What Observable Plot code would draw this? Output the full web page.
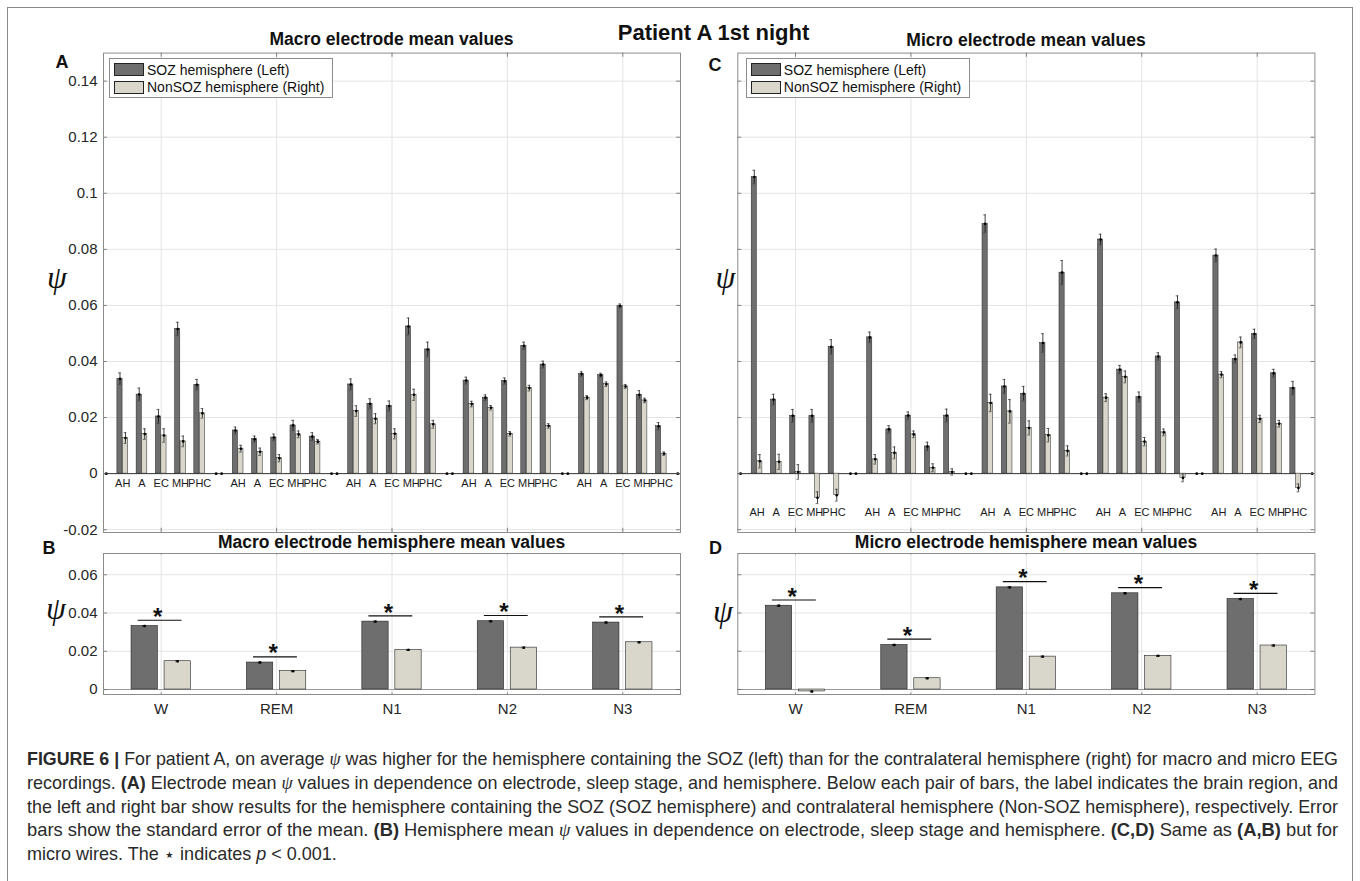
<!DOCTYPE html>
<html>
<head>
<meta charset="utf-8">
<script src="https://cdn.jsdelivr.net/npm/d3@7"></script>
<script src="https://cdn.jsdelivr.net/npm/@observablehq/plot@0.6"></script>
<style>
  body { margin: 0; background: #fff; }
  #fig { position: relative; width: 1360px; height: 881px; overflow: hidden; background: #fff;
         font-family: "Liberation Sans", Arial, Helvetica, sans-serif; color: #111; }
  .abs { position: absolute; white-space: nowrap; line-height: 1; }
  .ctr { transform: translate(-50%, -50%); }
  .psi { font-family: "Liberation Serif", "DejaVu Serif", serif; font-style: italic; }
  .legend { position: absolute; border: 1px solid #8c8c8c; background: #fff; box-sizing: border-box; }
  .lrow { position: absolute; left: 4px; display: flex; align-items: center; font-size: 14px; white-space: nowrap; }
  .patch { width: 30px; height: 13px; border: 1px solid #222; box-sizing: border-box; margin-right: 3px; }
  .cap { position: absolute; left: 27px; white-space: nowrap; line-height: 1; color: #2a2a2a; transform-origin: 0 50%; }
  .cap b { font-weight: bold; }
  .frame { position: absolute; left: 7px; top: 7px; width: 1346px; height: 900px; border: 1.5px solid #8a8a8a; box-sizing: border-box; }
</style>
</head>
<body>
<div id="fig"></div>
<script>
// ---------------- data ----------------
const stages = ["W", "REM", "N1", "N2", "N3"];
const regions = ["AH", "A", "EC", "MH", "PHC"];
const hemispheres = ["SOZ hemisphere (Left)", "NonSOZ hemisphere (Right)"];
const macroTicks = [-0.02, 0, 0.02, 0.04, 0.06, 0.08, 0.1, 0.12, 0.14];
const hemiTicks = [0, 0.02, 0.04, 0.06];

// Macro electrode means (rows: stages, cols: regions)
const macroSoz = [
  [0.0338, 0.0282, 0.0204, 0.0516, 0.0317],
  [0.0154, 0.0123, 0.0129, 0.0172, 0.0132],
  [0.0318, 0.0249, 0.0241, 0.0525, 0.0443],
  [0.0332, 0.0271, 0.0330, 0.0456, 0.0389],
  [0.0355, 0.0351, 0.0598, 0.0281, 0.0169]
];
const macroSozSE = [
  [0.0021, 0.0023, 0.0025, 0.0024, 0.0019],
  [0.0012, 0.0011, 0.0012, 0.0018, 0.0014],
  [0.0020, 0.0018, 0.0018, 0.0030, 0.0026],
  [0.0012, 0.0010, 0.0011, 0.0013, 0.0012],
  [0.0008, 0.0007, 0.0007, 0.0015, 0.0013]
];
const macroNon = [
  [0.0127, 0.0141, 0.0136, 0.0115, 0.0215],
  [0.0089, 0.0078, 0.0055, 0.0140, 0.0114],
  [0.0223, 0.0196, 0.0142, 0.0281, 0.0176],
  [0.0248, 0.0235, 0.0142, 0.0305, 0.0170],
  [0.0271, 0.0319, 0.0311, 0.0261, 0.0071]
];
const macroNonSE = [
  [0.0019, 0.0019, 0.0024, 0.0019, 0.0017],
  [0.0012, 0.0013, 0.0013, 0.0012, 0.0008],
  [0.0019, 0.0018, 0.0018, 0.0020, 0.0014],
  [0.0010, 0.0008, 0.0008, 0.0010, 0.0008],
  [0.0007, 0.0008, 0.0007, 0.0008, 0.0006]
];

// Micro electrode means
const microSoz = [
  [0.1058, 0.0264, 0.0206, 0.0206, 0.0452],
  [0.0486, 0.0158, 0.0207, 0.0097, 0.0207],
  [0.0891, 0.0311, 0.0285, 0.0466, 0.0717],
  [0.0835, 0.0371, 0.0273, 0.0418, 0.0611],
  [0.0778, 0.0409, 0.0498, 0.0358, 0.0305]
];
const microSozSE = [
  [0.0024, 0.0019, 0.0023, 0.0023, 0.0026],
  [0.0019, 0.0013, 0.0013, 0.0015, 0.0023],
  [0.0032, 0.0025, 0.0026, 0.0033, 0.0043],
  [0.0019, 0.0015, 0.0018, 0.0013, 0.0023],
  [0.0023, 0.0014, 0.0017, 0.0014, 0.0024]
];
const microNon = [
  [0.0044, 0.0042, 0.0006, -0.0086, -0.0077],
  [0.0051, 0.0074, 0.0140, 0.0021, 0.0006],
  [0.0252, 0.0222, 0.0163, 0.0137, 0.0081],
  [0.0271, 0.0345, 0.0114, 0.0147, -0.0015],
  [0.0353, 0.0468, 0.0195, 0.0178, -0.0051]
];
const microNonSE = [
  [0.0024, 0.0027, 0.0026, 0.0021, 0.0021],
  [0.0017, 0.0021, 0.0012, 0.0014, 0.0011],
  [0.0031, 0.0042, 0.0025, 0.0024, 0.0018],
  [0.0014, 0.0021, 0.0015, 0.0012, 0.0014],
  [0.0011, 0.0019, 0.0013, 0.0012, 0.0014]
];

// Hemisphere means
const macroHemiSoz = [0.0332, 0.0141, 0.0355, 0.0357, 0.0350];
const macroHemiSozSE = [0.0003, 0.0003, 0.0003, 0.0003, 0.0003];
const macroHemiNon = [0.0148, 0.0096, 0.0207, 0.0219, 0.0247];
const macroHemiNonSE = [0.0003, 0.0003, 0.0003, 0.0003, 0.0003];
const microHemiSoz = [0.0438, 0.0233, 0.0534, 0.0503, 0.0473];
const microHemiSozSE = [0.0003, 0.0003, 0.0003, 0.0003, 0.0003];
const microHemiNon = [-0.0010, 0.0059, 0.0172, 0.0176, 0.0230];
const microHemiNonSE = [0.0003, 0.0003, 0.0003, 0.0003, 0.0003];
const significant = [true, true, true, true, true];

// ---------------- style ----------------
const DARK = "#6e6e6e", LIGHT = "#d9d7cc", GRID = "#e4e4e4", BOX = "#8c8c8c", INK = "#1a1a1a";
const FONT = "Liberation Sans, Arial, Helvetica, sans-serif";
const fig = document.getElementById("fig");

function place(node, left, top) {
  node.style.position = "absolute";
  node.style.left = left + "px";
  node.style.top = top + "px";
  fig.appendChild(node);
}
function label(html, x, y, css) {
  const d = document.createElement("div");
  d.className = "abs ctr";
  d.innerHTML = html;
  d.style.left = x + "px";
  d.style.top = y + "px";
  Object.assign(d.style, css || {});
  fig.appendChild(d);
  return d;
}

const frameDiv = document.createElement("div");
frameDiv.className = "frame";
fig.appendChild(frameDiv);

// ---------------- detail panels (A, C) ----------------
function detailPanel({soz, sozSE, non, nonSE, showY, labelY, svgLeft, width, left, right}) {
  const off = 0.143, hw = 0.135;
  const bars = [];
  stages.forEach((st, g) => regions.forEach((r, k) => {
    const slot = 6 * g + k + 1;
    bars.push({slot, hemi: "soz", xc: slot - off, v: soz[g][k], se: sozSE[g][k], r});
    bars.push({slot, hemi: "non", xc: slot + off, v: non[g][k], se: nonSE[g][k], r});
  }));
  const seps = [];
  [...stages.map((s, g) => 6 * g), 6 * stages.length].forEach(s => {
    seps.push({xc: s - off}); seps.push({xc: s + off});
  });
  const centers = stages.map((s, g) => 6 * g + 3);
  const labels = bars.filter(b => b.hemi === "soz");
  const tk = 0.0015;
  const fmt = d => String(+d.toFixed(2));
  const svg = Plot.plot({
    width, height: 545,
    marginLeft: left - svgLeft, marginRight: svgLeft + width - right,
    marginTop: 52.6, marginBottom: 13,
    x: {domain: [0, 30], axis: null, label: null},
    y: {domain: [-0.021, 0.15], axis: null, label: null},
    style: {fontFamily: FONT, background: "transparent", overflow: "visible", color: INK},
    marks: [
      Plot.ruleY(macroTicks.filter(t => t !== 0), {stroke: GRID, strokeWidth: 1}),
      Plot.ruleX(centers, {stroke: GRID, strokeWidth: 1}),
      Plot.ruleY([0], {stroke: "#333", strokeWidth: 1}),
      Plot.rect(bars.filter(b => b.hemi === "soz"), {x1: d => d.xc - hw, x2: d => d.xc + hw, y1: 0, y2: "v", fill: DARK, stroke: "#222", strokeWidth: 0.5}),
      Plot.rect(bars.filter(b => b.hemi === "non"), {x1: d => d.xc - hw, x2: d => d.xc + hw, y1: 0, y2: "v", fill: LIGHT, stroke: "#222", strokeWidth: 0.5}),
      Plot.ruleX(bars, {x: "xc", y1: d => d.v - d.se, y2: d => d.v + d.se, stroke: "#111", strokeWidth: 0.8}),
      Plot.ruleY(bars, {y: d => d.v + d.se, x1: d => d.xc - 0.07, x2: d => d.xc + 0.07, stroke: "#444", strokeWidth: 0.8}),
      Plot.ruleY(bars, {y: d => d.v - d.se, x1: d => d.xc - 0.07, x2: d => d.xc + 0.07, stroke: "#444", strokeWidth: 0.8}),
      Plot.dot(bars, {x: "xc", y: "v", r: 1.3, fill: "#000", stroke: null}),
      Plot.dot(seps, {x: "xc", y: 0, r: 1.4, fill: "#000", stroke: null, clip: true}),
      Plot.text(labels, {x: "slot", y: labelY, text: "r", fontSize: 11, fill: INK}),
      Plot.ruleY(macroTicks, {x1: 0, x2: 0.2, stroke: "#666", strokeWidth: 0.8}),
      Plot.ruleY(macroTicks, {x1: 29.8, x2: 30, stroke: "#666", strokeWidth: 0.8}),
      Plot.ruleX(centers, {y1: 0.15, y2: 0.15 - tk, stroke: "#666", strokeWidth: 0.8}),
      Plot.ruleX(centers, {y1: -0.021, y2: -0.021 + tk, stroke: "#666", strokeWidth: 0.8}),
      Plot.frame({stroke: BOX, strokeWidth: 1}),
      showY ? Plot.axisY(macroTicks, {anchor: "left", tickSize: 0, tickPadding: 6, tickFormat: fmt, fontSize: 15, fill: "#262626", label: null}) : null
    ]
  });
  place(svg, svgLeft, 0);
}

// ---------------- hemisphere panels (B, D) ----------------
function hemiPanel({soz, sozSE, non, nonSE, showY, svgLeft, width, left, right}) {
  const off = 0.143, hw = 0.114;
  const bars = [];
  stages.forEach((st, i) => {
    bars.push({i, hemi: "soz", xc: i - off, v: soz[i], se: sozSE[i]});
    bars.push({i, hemi: "non", xc: i + off, v: non[i], se: nonSE[i]});
  });
  const sig = stages.map((st, i) => ({i, y: Math.max(soz[i], non[i]) + 0.003})).filter(d => significant[d.i]);
  const idx = stages.map((s, i) => i);
  const y0 = -0.0026, y1 = 0.0711, tk = 0.0008;
  const fmt = d => String(+d.toFixed(2));
  const svg = Plot.plot({
    width, height: 190,
    marginLeft: left - svgLeft, marginRight: svgLeft + width - right,
    marginTop: 13, marginBottom: 36,
    x: {domain: [-0.5, 4.5], axis: null, label: null},
    y: {domain: [y0, y1], axis: null, label: null},
    style: {fontFamily: FONT, background: "transparent", overflow: "visible", color: INK},
    marks: [
      Plot.ruleY(hemiTicks.filter(t => t !== 0), {stroke: GRID, strokeWidth: 1}),
      Plot.ruleX(idx, {stroke: GRID, strokeWidth: 1}),
      Plot.ruleY([0], {stroke: "#999", strokeWidth: 1}),
      Plot.rect(bars.filter(b => b.hemi === "soz"), {x1: d => d.xc - hw, x2: d => d.xc + hw, y1: 0, y2: "v", fill: DARK, stroke: "#222", strokeWidth: 0.6}),
      Plot.rect(bars.filter(b => b.hemi === "non"), {x1: d => d.xc - hw, x2: d => d.xc + hw, y1: 0, y2: "v", fill: LIGHT, stroke: "#222", strokeWidth: 0.6}),
      Plot.ruleX(bars, {x: "xc", y1: d => d.v - d.se, y2: d => d.v + d.se, stroke: "#111", strokeWidth: 0.8}),
      Plot.ruleY(bars, {y: d => d.v + d.se, x1: d => d.xc - 0.015, x2: d => d.xc + 0.015, stroke: "#111", strokeWidth: 0.8}),
      Plot.ruleY(bars, {y: d => d.v - d.se, x1: d => d.xc - 0.015, x2: d => d.xc + 0.015, stroke: "#111", strokeWidth: 0.8}),
      Plot.dot(bars, {x: "xc", y: "v", r: 1.2, fill: "#000", stroke: null}),
      Plot.ruleY(sig, {y: "y", x1: d => d.i - 0.2, x2: d => d.i + 0.18, stroke: "#111", strokeWidth: 1.2}),
      Plot.text(sig, {x: d => d.i - 0.03, y: "y", text: () => "*", fontSize: 24, fontWeight: "bold", dy: -3, fill: "#111"}),
      Plot.ruleY(hemiTicks, {x1: -0.5, x2: -0.465, stroke: "#666", strokeWidth: 0.8}),
      Plot.ruleY(hemiTicks, {x1: 4.465, x2: 4.5, stroke: "#666", strokeWidth: 0.8}),
      Plot.ruleX(idx, {y1: y1, y2: y1 - tk, stroke: "#666", strokeWidth: 0.8}),
      Plot.ruleX(idx, {y1: y0, y2: y0 + tk, stroke: "#666", strokeWidth: 0.8}),
      Plot.frame({stroke: BOX, strokeWidth: 1}),
      Plot.axisX(idx, {anchor: "bottom", tickSize: 0, tickPadding: 9, tickFormat: i => stages[i], fontSize: 15, fill: "#262626", label: null}),
      showY ? Plot.axisY(hemiTicks, {anchor: "left", tickSize: 0, tickPadding: 6, tickFormat: fmt, fontSize: 15, fill: "#262626", label: null}) : null
    ]
  });
  place(svg, svgLeft, 540);
}

const AX = {left: 103, right: 680}, CX = {left: 737.3, right: 1314.4};

detailPanel({soz: macroSoz, sozSE: macroSozSE, non: macroNon, nonSE: macroNonSE, showY: true, labelY: -0.0034, svgLeft: 0, width: 700, ...AX});
detailPanel({soz: microSoz, sozSE: microSozSE, non: microNon, nonSE: microNonSE, showY: false, labelY: -0.0137, svgLeft: 690, width: 670, ...CX});
hemiPanel({soz: macroHemiSoz, sozSE: macroHemiSozSE, non: macroHemiNon, nonSE: macroHemiNonSE, showY: true, svgLeft: 0, width: 700, ...AX});
hemiPanel({soz: microHemiSoz, sozSE: microHemiSozSE, non: microHemiNon, nonSE: microHemiNonSE, showY: false, svgLeft: 690, width: 670, ...CX});

// ---------------- legends ----------------
function legend(x, y) {
  const box = document.createElement("div");
  box.className = "legend";
  box.style.left = x + "px"; box.style.top = y + "px";
  box.style.width = "224px"; box.style.height = "40.5px";
  [[DARK, 0], [LIGHT, 1]].forEach(([c, i]) => {
    const row = document.createElement("div");
    row.className = "lrow";
    row.style.top = (3 + i * 17.5) + "px";
    const p = document.createElement("div");
    p.className = "patch"; p.style.background = c;
    row.appendChild(p);
    const t = document.createElement("span");
    t.textContent = hemispheres[i];
    row.appendChild(t);
    box.appendChild(row);
  });
  fig.appendChild(box);
}
legend(109, 57.8);
legend(745.8, 57.8);

// ---------------- titles & labels ----------------
label("Patient A 1st night", 713.5, 33, {fontSize: "22px", fontWeight: "bold"});
label("Macro electrode mean values", 391.5, 40, {fontSize: "17.5px", fontWeight: "bold"});
label("Micro electrode mean values", 1026, 41, {fontSize: "17.5px", fontWeight: "bold"});
label("Macro electrode hemisphere mean values", 391.5, 543, {fontSize: "17.5px", fontWeight: "bold"});
label("Micro electrode hemisphere mean values", 1026, 543, {fontSize: "17.5px", fontWeight: "bold"});
label("A", 62, 62, {fontSize: "18px", fontWeight: "bold"});
label("B", 49, 548, {fontSize: "18px", fontWeight: "bold"});
label("C", 715, 65, {fontSize: "18px", fontWeight: "bold"});
label("D", 715.5, 548, {fontSize: "18px", fontWeight: "bold"});
label('<span class="psi">ψ</span>', 57, 277, {fontSize: "32px"});
label('<span class="psi">ψ</span>', 725.5, 277, {fontSize: "32px"});
label('<span class="psi">ψ</span>', 56, 608, {fontSize: "32px"});
label('<span class="psi">ψ</span>', 723, 611, {fontSize: "32px"});

// ---------------- caption ----------------
const psi = '<span class="psi">ψ</span>';
const captionLines = [
  `<b>FIGURE 6 |</b> For patient A, on average ${psi} was higher for the hemisphere containing the SOZ (left) than for the contralateral hemisphere (right) for macro and micro EEG`,
  `recordings. <b>(A)</b> Electrode mean ${psi} values in dependence on electrode, sleep stage, and hemisphere. Below each pair of bars, the label indicates the brain region, and`,
  `the left and right bar show results for the hemisphere containing the SOZ (SOZ hemisphere) and contralateral hemisphere (Non-SOZ hemisphere), respectively. Error`,
  `bars show the standard error of the mean. <b>(B)</b> Hemisphere mean ${psi} values in dependence on electrode, sleep stage and hemisphere. <b>(C,D)</b> Same as <b>(A,B)</b> but for`,
  `micro wires. The <span style="font-family:'DejaVu Sans';font-size:19px;position:relative;top:1px">⋆</span> indicates <i>p</i> &lt; 0.001.`
];
const capY = [758, 782, 806, 829.5, 853];
const target = 1311;
const capSize = 19;
const scales = [];
captionLines.forEach((html, i) => {
  const d = document.createElement("div");
  d.className = "cap";
  d.style.fontSize = capSize + "px";
  d.innerHTML = html;
  fig.appendChild(d);
  const h = d.getBoundingClientRect().height;
  d.style.top = (capY[i] - h / 2) + "px";
  let s;
  if (i < captionLines.length - 1) {
    s = target / d.getBoundingClientRect().width;
    scales.push(s);
  } else {
    s = d3.mean(scales);
  }
  d.style.transform = `scaleX(${s})`;
});
</script>
</body>
</html>
